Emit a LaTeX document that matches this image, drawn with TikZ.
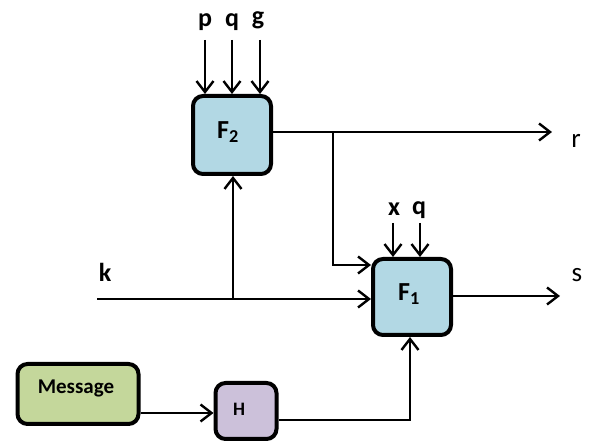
\documentclass[tikz,border=0pt]{standalone}
\usepackage{fontspec}
\setmainfont{Carlito}
\usetikzlibrary{arrows.meta}
\definecolor{fbox}{RGB}{178,216,228}
\definecolor{msgbox}{RGB}{196,215,155}
\definecolor{hbox}{RGB}{204,193,218}
\tikzset{
  blk/.style={draw=black, line width=4pt, rounded corners=10pt, inner sep=0pt},
  wire/.style={line width=2.5pt, -{Straight Barb[length=11pt,width=17pt,line width=2.4pt]}},
  lbl/.style={font=\bfseries\fontsize{26}{28}\selectfont, inner sep=0pt},
  olbl/.style={font=\fontsize{27}{29}\selectfont, inner sep=0pt},
  blbl/.style={font=\bfseries\fontsize{26}{28}\selectfont, inner sep=0pt},
}
\begin{document}
\begin{tikzpicture}[x=1pt,y=-1pt]
\useasboundingbox (0,0) rectangle (590,443);
\fill[white] (0,0) rectangle (590,443);

% function blocks
\node[blk, fill=fbox, minimum width=78pt, minimum height=78pt] (F2) at (232,135) {};
\node[blbl] (F2t) at (228,132) {F\textsubscript{2}};
\node[blk, fill=fbox, minimum width=78pt, minimum height=76pt] (F1) at (412,297) {};
\node[blbl] (F1t) at (409,294) {F\textsubscript{1}};
\node[blk, fill=msgbox, minimum width=121pt, minimum height=60pt] (M) at (78,394) {};
\node[font=\bfseries\fontsize{21}{23}\selectfont, inner sep=0pt] (Mt) at (76,388) {Message};
\node[blk, fill=hbox, minimum width=61pt, minimum height=56pt] (H) at (246,411) {};
\node[font=\bfseries\fontsize{19}{21}\selectfont, inner sep=0pt] (Ht) at (239,409) {H};

% input labels
\node[lbl] (p) at (205,22) {p};
\node[lbl] (q) at (232,22) {q};
\node[lbl] (g) at (258,20) {g};
\node[lbl] (x) at (394,209) {x};
\node[lbl] (q1) at (419,210) {q};
\node[lbl] (k) at (105,272) {k};
\node[olbl] (r) at (576,141) {r};
\node[olbl] (s) at (577,275) {s};

% free ends of connectors
\coordinate (p0) at (205,40);
\coordinate (q0) at (232,40);
\coordinate (g0) at (260,40);
\coordinate (x0) at (393,223);
\coordinate (q10) at (420,223);
\coordinate (k0) at (97,299);
\coordinate (rEnd) at (552,132);
\coordinate (sEnd) at (560,296);
\coordinate (tap) at (333,132);
\coordinate (kTap) at (233,299);
\coordinate (hCorner) at (410,420);

% inputs from above
\draw[wire] (p0) -- (p0 |- F2.north);
\draw[wire] (q0) -- (q0 |- F2.north);
\draw[wire] (g0) -- (g0 |- F2.north);
\draw[wire] (x0) -- (x0 |- F1.north);
\draw[wire] (q10) -- (q10 |- F1.north);

% outputs
\draw[wire] (F2.east |- rEnd) -- (rEnd);
\draw[wire] (F1.east |- sEnd) -- (sEnd);

% feed of r into F1
\draw[wire] (tap) -- (333,265) -- (F1.west |- 0,265);

% k into F1 and up to F2
\draw[wire] (k0) -- (F1.west |- k0);
\draw[wire] (kTap) -- (kTap |- F2.south);

% message path
\draw[wire] (M.east |- 0,413) -- (H.west |- 0,413);
\draw[wire] (H.east |- hCorner) -- (hCorner) -- (hCorner |- F1.south);
\end{tikzpicture}
\end{document}
